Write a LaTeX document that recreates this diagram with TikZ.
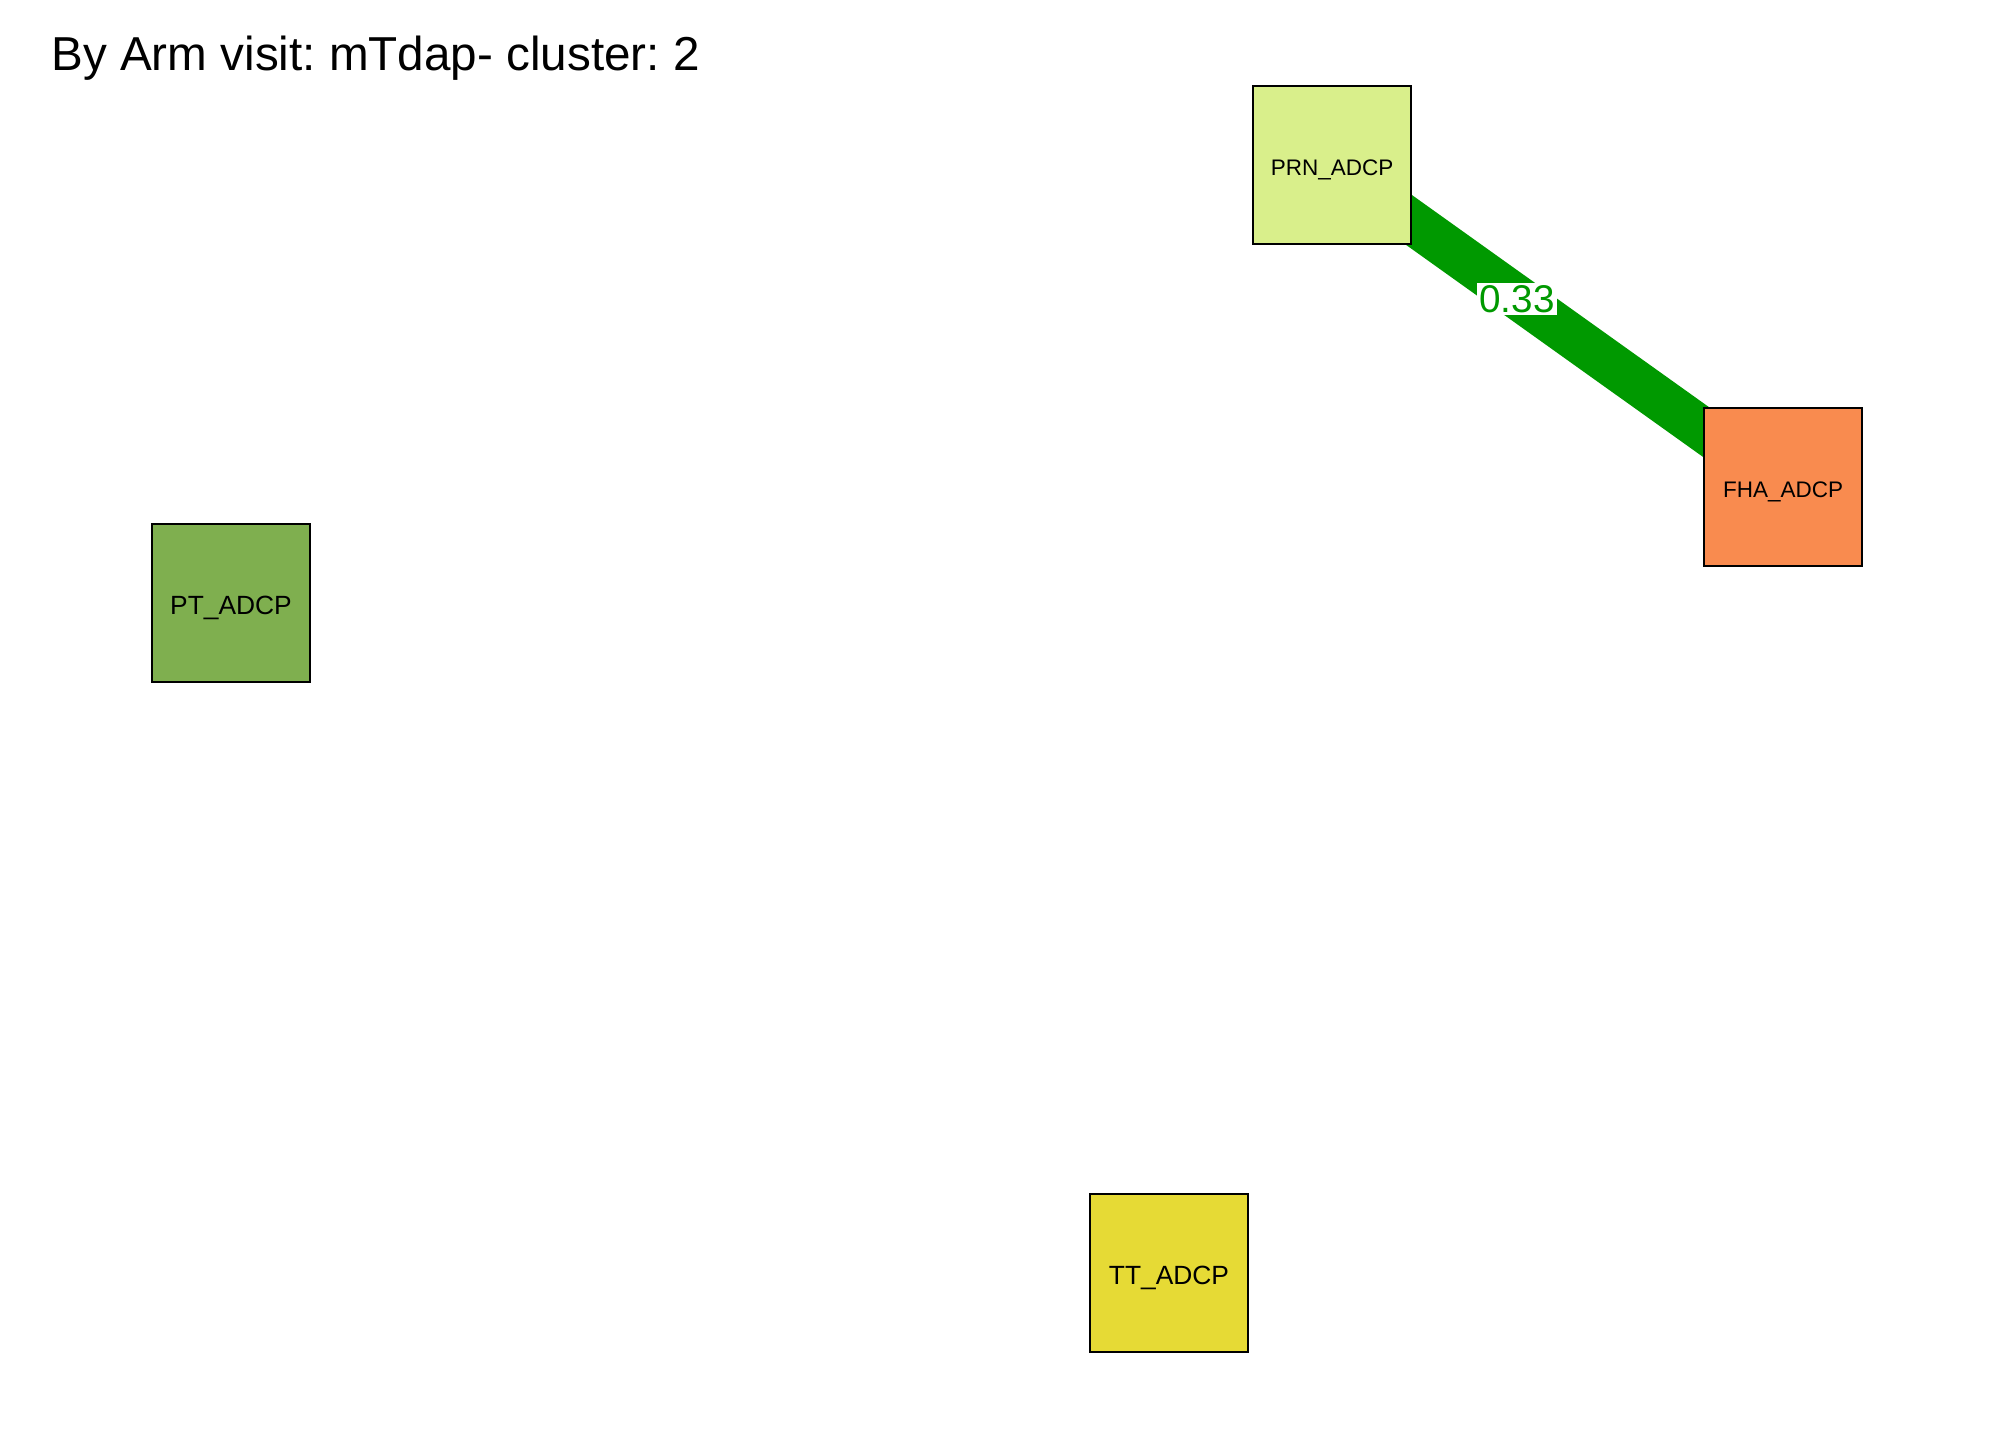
\documentclass[tikz,border=0pt]{standalone}
\usepackage{fontspec}
\setmainfont{Liberation Sans}
\usetikzlibrary{backgrounds}
\definecolor{prncol}{HTML}{D9EF8B}
\definecolor{fhacol}{HTML}{F98B4F}
\definecolor{ptcol}{HTML}{7FAF4F}
\definecolor{ttcol}{HTML}{E6DA35}
\definecolor{edgecol}{HTML}{009900}
\frenchspacing

\begin{document}
\begin{tikzpicture}[
    vbox/.style={rectangle,draw=black,line width=0.55pt,minimum size=1.58cm,inner sep=0pt},
    smalllab/.style={font=\fontsize{6.4pt}{7pt}\selectfont,text height=7.4pt,text depth=1.3pt},
    biglab/.style={font=\fontsize{7.5pt}{8.5pt}\selectfont,text height=8.2pt,text depth=1.5pt},
    edgeline/.style={draw=edgecol,line width=0.44cm},
    edgelab/.style={fill=white,text=edgecol,inner sep=0.6pt,font=\fontsize{11pt}{12pt}\selectfont}]
    \useasboundingbox (0,0) rectangle (20.16,-14.4);
    \node [anchor=base west,font=\fontsize{13.55pt}{15pt}\selectfont] (title) at (0.39,-0.70) {By Arm visit: mTdap- cluster: 2};

    \node (prn) at (13.32,-1.65) [vbox,fill=prncol,smalllab] {PRN\_ADCP};
    \node (fha) at (17.83,-4.87) [vbox,fill=fhacol,smalllab] {FHA\_ADCP};
    \node (pt) at (2.31,-6.03) [vbox,fill=ptcol,biglab] {PT\_ADCP};
    \node (tt) at (11.69,-12.73) [vbox,fill=ttcol,biglab] {TT\_ADCP};

    \begin{pgfonlayer}{background}
        \draw [edgeline] (prn.center) -- (fha.center);
    \end{pgfonlayer}
    \path (prn.center) -- node [pos=0.41,edgelab,yshift=-0.02cm] (w) {0.33} (fha.center);
\end{tikzpicture}
\end{document}
